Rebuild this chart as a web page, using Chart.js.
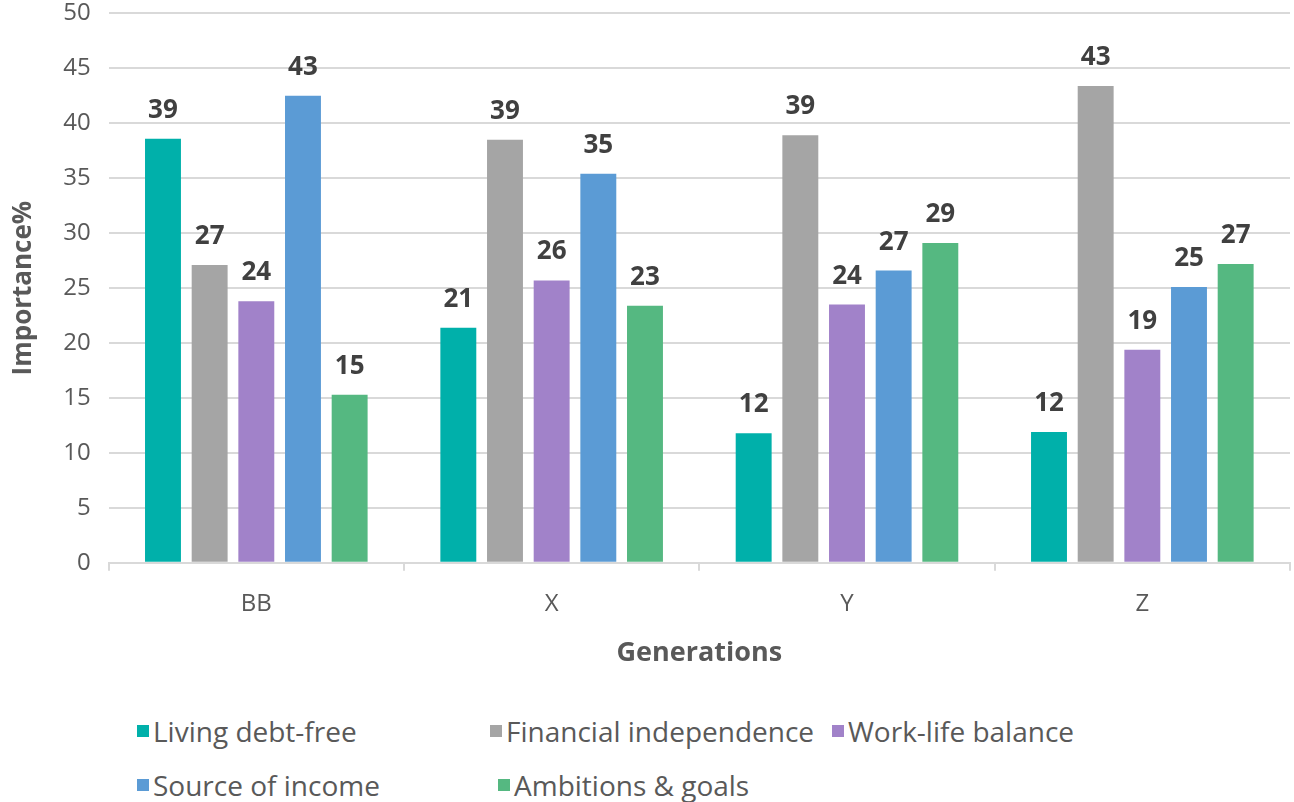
<!DOCTYPE html>
<html>
<head>
<meta charset="utf-8">
<script src="https://cdn.jsdelivr.net/npm/chart.js@4"></script>
<style>
  body { margin: 0; background: #fff; font-family: "Open Sans", sans-serif; }
  #wrap { position: relative; width: 1294px; height: 802px; overflow: hidden; }
  #chartBox { position: absolute; left: 0; top: -19px; width: 1294px; height: 703px; }
  .leg { position: absolute; display: flex; align-items: center; font-size: 28px; color: #595959; white-space: nowrap; }
  .leg span.sw { display: inline-block; width: 12px; height: 12px; margin-right: 4px; }
</style>
</head>
<body>
<div id="wrap">
  <div id="chartBox"><canvas id="c"></canvas></div>
  <div id="legend"></div>
</div>
<script>
const generations = ["BB", "X", "Y", "Z"];
const seriesNames = ["Living debt-free", "Financial independence", "Work-life balance", "Source of income", "Ambitions & goals"];
const livingDebtFree = [38.6, 21.4, 11.8, 11.9];
const financialIndependence = [27.1, 38.5, 38.9, 43.4];
const workLifeBalance = [23.8, 25.7, 23.5, 19.4];
const sourceOfIncome = [42.5, 35.4, 26.6, 25.1];
const ambitionsGoals = [15.3, 23.4, 29.1, 27.2];
const colors = ["#00B0AA", "#A5A5A5", "#A182C9", "#5B9BD5", "#55B881"];
const yTicks = [0, 5, 10, 15, 20, 25, 30, 35, 40, 45, 50];

const values = [livingDebtFree, financialIndependence, workLifeBalance, sourceOfIncome, ambitionsGoals];

// data labels above each bar
const barLabels = {
  id: "barLabels",
  afterDatasetsDraw(chart) {
    const ctx = chart.ctx;
    ctx.save();
    ctx.font = "bold 26px 'Open Sans'";
    ctx.fillStyle = "#404040";
    ctx.textAlign = "center";
    ctx.textBaseline = "alphabetic";
    chart.data.datasets.forEach((ds, i) => {
      chart.getDatasetMeta(i).data.forEach((bar, j) => {
        ctx.fillText(Math.round(ds.data[j]), bar.x, bar.y - 21);
      });
    });
    ctx.restore();
  }
};

new Chart(document.getElementById("c"), {
  type: "bar",
  data: {
    labels: generations,
    datasets: seriesNames.map((name, i) => ({
      label: name,
      data: values[i],
      backgroundColor: colors[i],
      categoryPercentage: 0.79,
      barPercentage: 0.77
    }))
  },
  options: {
    responsive: true,
    maintainAspectRatio: false,
    animation: false,
    layout: { padding: { top: 0, right: 4, left: 4, bottom: 10 } },
    plugins: {
      legend: { display: false },
      tooltip: { enabled: false }
    },
    scales: {
      x: {
        grid: { offset: true, drawOnChartArea: false, drawTicks: true, tickLength: 8, color: "#D9D9D9", lineWidth: 2 },
        border: { color: "#D9D9D9", width: 2 },
        ticks: { color: "#595959", font: { family: "Open Sans", size: 24 }, padding: 19 },
        title: { display: true, text: "Generations", color: "#595959", font: { family: "Open Sans", size: 27, weight: "bold" }, padding: { top: 0 } }
      },
      y: {
        min: 0,
        max: 50,
        afterBuildTicks(axis) { axis.ticks = yTicks.map(v => ({ value: v })); },
        grid: { color: "#D9D9D9", lineWidth: 2, drawTicks: false },
        border: { display: false },
        ticks: { color: "#595959", font: { family: "Open Sans", size: 24 }, padding: 18 },
        title: { display: true, text: "Importance%", color: "#595959", font: { family: "Open Sans", size: 26, weight: "bold" }, padding: { bottom: 6 } }
      }
    }
  },
  plugins: [barLabels]
});

// legend laid out like the reference (two rows)
const legPos = [[137, 732], [490, 732], [832, 732], [137, 786], [498, 786]];
const legend = document.getElementById("legend");
seriesNames.forEach((name, i) => {
  const d = document.createElement("div");
  d.className = "leg";
  d.style.left = legPos[i][0] + "px";
  d.style.top = (legPos[i][1] - 20) + "px";
  d.innerHTML = '<span class="sw" style="background:' + colors[i] + '"></span>';
  d.appendChild(document.createTextNode(name));
  legend.appendChild(d);
});
</script>
</body>
</html>
